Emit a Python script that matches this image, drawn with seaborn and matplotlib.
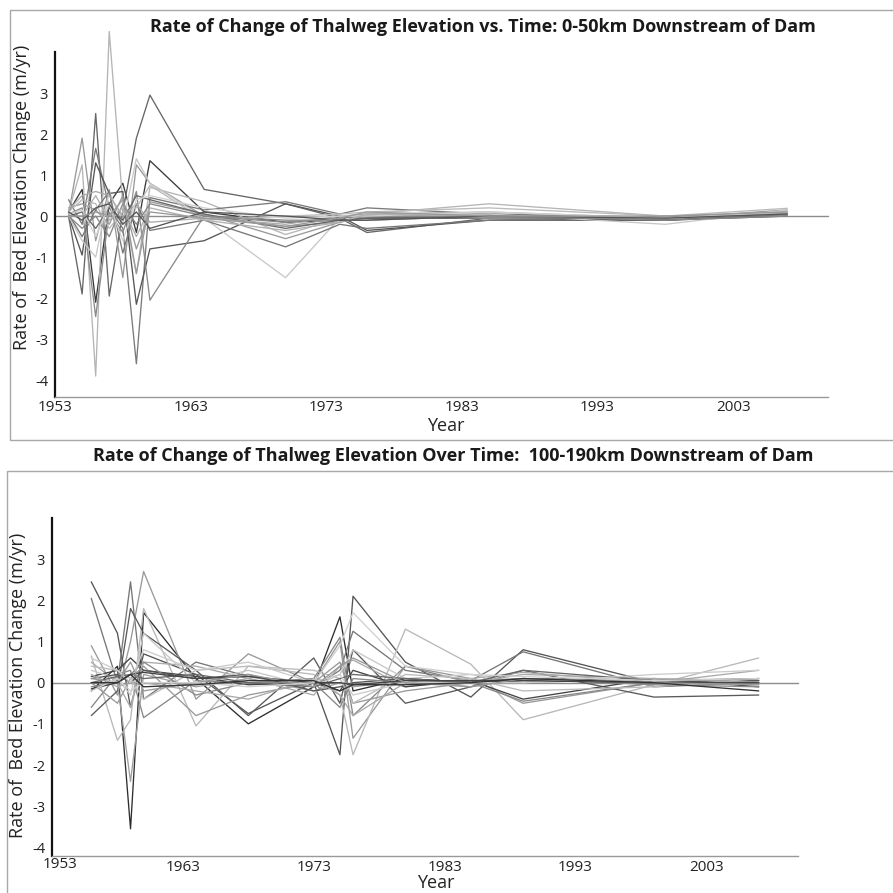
import matplotlib
matplotlib.use("Agg")
import matplotlib.pyplot as plt
from matplotlib.patches import Rectangle
from matplotlib.transforms import ScaledTranslation
import pandas as pd
import seaborn as sns

# Top panel: 0-50 km downstream of dam
TOP_TITLE = "Rate of Change of Thalweg Elevation vs. Time: 0-50km Downstream of Dam"
top_years = [1954, 1955, 1956, 1957, 1958, 1959, 1960, 1964, 1970, 1974, 1976, 1985, 1998, 2007]
top_series = [
    [0.10, 0.65, -2.10, 0.30, 0.80, -0.40, 1.35, 0.10, -0.15, -0.10, -0.05, -0.05, -0.10, 0.05],
    [0.00, -1.90, 2.50, -1.95, 0.10, 1.90, 2.95, 0.65, 0.30, -0.05, -0.40, -0.05, -0.05, 0.10],
    [0.05, 1.90, -0.60, 0.65, -1.50, 1.25, 0.80, 0.00, -0.25, -0.15, 0.00, 0.05, -0.05, 0.15],
    [0.10, 1.25, -3.90, 4.50, 0.30, -1.40, 0.70, 0.35, -0.45, -0.05, 0.05, 0.30, 0.00, 0.10],
    [0.40, -0.20, 1.65, 0.20, -0.30, -3.60, 0.45, 0.15, 0.35, 0.05, 0.20, 0.05, -0.05, 0.10],
    [0.00, -0.95, 1.30, 0.55, 0.60, -2.15, -0.80, -0.60, 0.30, 0.00, -0.35, -0.10, -0.10, 0.00],
    [0.05, 0.20, -2.45, 0.10, -0.40, 0.60, -2.05, 0.00, -0.10, -0.10, -0.10, 0.00, -0.05, 0.05],
    [0.00, -0.60, -1.00, 0.60, -0.20, 1.40, 0.80, -0.05, -1.50, -0.05, 0.05, 0.05, -0.20, 0.15],
    [0.20, 0.30, 0.15, -0.20, 0.50, -1.40, 0.35, 0.05, -0.55, -0.15, 0.00, -0.05, -0.05, 0.05],
    [0.05, -0.50, 0.15, 0.60, -0.90, 0.30, -0.35, -0.10, -0.75, -0.20, -0.30, -0.10, 0.00, 0.00],
    [0.10, 0.40, 0.30, -0.30, 0.10, 0.20, 0.75, -0.10, 0.00, 0.05, 0.10, 0.20, 0.00, 0.19],
    [0.00, 0.10, -0.30, 0.20, -0.10, 0.50, 0.40, 0.05, -0.30, -0.10, -0.05, 0.00, -0.10, 0.05],
    [0.15, 0.50, 0.60, 0.50, 0.00, 0.30, -0.15, -0.05, -0.20, 0.00, 0.05, 0.10, -0.05, 0.10],
    [0.00, -0.30, 0.00, -0.50, 0.30, -0.20, 0.30, 0.00, -0.15, -0.05, 0.00, 0.00, -0.10, 0.00],
    [0.05, 0.15, -0.50, 0.30, -0.60, 0.40, 0.50, 0.20, -0.05, 0.00, 0.00, 0.10, -0.05, 0.10],
    [0.00, 0.00, 0.50, -0.10, 0.20, -0.50, 0.20, -0.10, -0.35, -0.15, 0.05, 0.00, -0.05, 0.05],
    [0.10, -0.10, 0.20, 0.30, -0.20, 0.10, -0.30, 0.10, 0.00, -0.10, -0.10, 0.00, -0.05, 0.05],
    [0.00, 0.00, 0.10, 0.00, 0.40, -0.80, 0.10, -0.05, -0.25, -0.05, 0.10, 0.00, 0.00, 0.10],
]
top_grays = ["#3a3a3a", "#666666", "#999999", "#b5b5b5", "#7a7a7a", "#555555", "#8a8a8a", "#c8c8c8",
             "#9a9a9a", "#777777", "#bbbbbb", "#666666", "#aaaaaa", "#888888", "#d0d0d0", "#b0b0b0",
             "#555555", "#999999"]

# Bottom panel: 100-190 km downstream of dam
BOTTOM_TITLE = "Rate of Change of Thalweg Elevation Over Time:  100-190km Downstream of Dam"
bottom_years = [1956, 1958, 1959, 1960, 1964, 1968, 1973, 1975, 1976, 1980, 1985, 1989, 1999, 2007]
bottom_series = [
    [-0.20, 0.40, -3.55, 1.70, 0.10, -1.00, -0.10, 1.60, -0.20, 0.10, 0.00, 0.10, 0.05, 0.00],
    [2.45, 1.20, -0.60, 0.70, 0.20, -0.75, 0.00, -1.75, 2.10, 0.50, -0.35, 0.80, 0.00, 0.05],
    [2.05, 0.00, 2.45, -0.40, 0.50, 0.15, -0.10, 0.30, 1.25, 0.30, 0.05, 0.75, -0.10, 0.00],
    [0.90, -0.30, 1.00, 2.70, -0.40, 0.70, 0.00, 1.00, -1.35, 0.40, 0.10, -0.50, 0.00, 0.00],
    [0.65, -1.40, -0.90, 1.80, -1.05, 0.40, 0.20, -0.30, -1.75, 1.30, 0.45, -0.90, -0.05, 0.60],
    [-0.80, -0.20, 1.80, 1.20, 0.30, -0.80, 0.60, -0.50, 0.80, -0.50, -0.10, 0.30, -0.35, -0.30],
    [-0.60, 0.20, 0.30, -0.85, 0.05, 0.00, 0.10, 1.10, -0.80, 0.40, 0.00, -0.45, 0.00, 0.10],
    [0.50, 0.00, -0.60, 0.50, 0.40, 0.10, -0.30, 0.40, 0.55, -0.10, 0.10, 0.25, 0.00, 0.30],
    [0.15, 0.30, 0.60, 0.30, 0.15, -0.05, 0.00, -0.20, 0.30, -0.10, 0.05, -0.40, 0.10, -0.10],
    [0.00, -0.50, 0.10, 0.40, -0.80, -0.30, 0.00, 0.50, -0.50, -0.20, 0.00, 0.00, 0.10, 0.05],
    [0.30, 0.10, -0.30, 1.20, 0.00, 0.30, -0.10, 0.20, 0.80, 0.10, 0.20, 0.00, 0.10, 0.00],
    [0.00, 0.00, -2.40, 0.20, -0.10, 0.10, -0.20, 0.00, -0.10, 0.05, -0.10, 0.10, 0.00, -0.05],
    [0.10, 0.20, 0.00, 0.30, 0.10, 0.20, -0.20, -0.10, 0.00, 0.10, 0.00, 0.05, 0.00, 0.05],
    [0.40, 0.30, 0.10, -0.40, 0.30, 0.40, 0.30, 0.10, -0.50, 0.20, 0.10, -0.20, -0.10, 0.10],
    [-0.10, 0.00, 0.20, 0.50, -0.30, 0.00, 0.00, -0.60, 0.10, 0.00, 0.05, 0.10, -0.05, -0.10],
    [0.20, -0.10, 0.00, 0.00, -0.20, -0.40, 0.10, -0.30, -0.80, 0.00, 0.00, 0.20, 0.10, 0.00],
    [0.00, 0.15, 0.20, 0.10, 0.20, 0.00, -0.10, 0.10, 0.20, 0.10, 0.00, 0.30, 0.05, 0.10],
    [0.60, 0.30, 0.00, 0.80, 0.30, 0.50, 0.00, 0.20, -0.30, 0.00, 0.00, 0.00, 0.20, 0.30],
    [-0.15, 0.00, 0.20, 0.25, 0.10, 0.15, 0.00, 0.00, -0.05, 0.05, 0.05, 0.05, 0.00, 0.00],
    [0.10, 0.00, 0.50, -0.20, 0.00, 0.20, -0.10, 0.40, 0.60, 0.00, -0.10, 0.10, 0.00, -0.05],
    [-0.20, 0.10, -0.20, 0.00, 0.00, -0.10, 0.00, 0.90, 1.70, 0.40, 0.20, 0.15, 0.05, 0.10],
    [0.00, 0.00, 0.20, -0.10, -0.05, 0.05, 0.05, -0.20, -0.05, -0.05, 0.00, 0.10, 0.00, -0.20],
]
bottom_grays = ["#2e2e2e", "#555555", "#777777", "#999999", "#b8b8b8", "#5a5a5a", "#888888", "#aaaaaa",
                "#444444", "#999999", "#c8c8c8", "#a0a0a0", "#555555", "#bbbbbb", "#888888", "#aaaaaa",
                "#666666", "#cccccc", "#444444", "#999999", "#d0d0d0", "#333333"]

year_ticks = [1953, 1963, 1973, 1983, 1993, 2003]
y_ticks = [-4, -3, -2, -1, 0, 1, 2, 3, 4]
YLABEL = "Rate of  Bed Elevation Change (m/yr)"

W = H = 893


def to_long(years, series):
    rows = []
    for idx, values in enumerate(series):
        for year, value in zip(years, values):
            rows.append({"series": idx, "year": year, "rate": value})
    return pd.DataFrame(rows)


def draw_panel(ax, years, series, grays, ylim, ylabel_xy, xlabel_xy, xpad):
    df = to_long(years, series)
    palette = {idx: color for idx, color in enumerate(grays)}
    ax.axhline(0, color="#8c8c8c", lw=1.0, zorder=0)
    sns.lineplot(data=df, x="year", y="rate", hue="series", palette=palette,
                 estimator=None, lw=0.95, legend=False, ax=ax, zorder=2)
    for line in ax.get_lines():
        line.set_clip_on(False)
    ax.set_xlim(1953, 2010)
    ax.set_ylim(*ylim)
    ax.set_xticks(year_ticks)
    ax.set_yticks(y_ticks)
    ax.set_yticklabels([str(t) if t < 4 else "" for t in y_ticks])
    ax.tick_params(axis="x", direction="in", length=3, color="#999999",
                   labelsize=11, labelcolor="#222222", pad=xpad)
    ax.tick_params(axis="y", direction="out", length=3, width=1, color="#222222",
                   labelsize=10.5, labelcolor="#222222", pad=2)
    for side in ["top", "right"]:
        ax.spines[side].set_visible(False)
    ax.spines["left"].set_color("#111111")
    ax.spines["left"].set_linewidth(1.6)
    ax.spines["bottom"].set_color("#999999")
    ax.spines["bottom"].set_linewidth(1.0)
    ax.set_xlabel("Year", fontsize=13, color="#222222")
    ax.set_ylabel(YLABEL, fontsize=13, color="#222222")
    ax.xaxis.set_label_coords(*xlabel_xy)
    ax.yaxis.set_label_coords(*ylabel_xy)
    ax.set_facecolor("white")


sns.set_theme(style="white")
plt.rcParams["font.family"] = ["Open Sans", "DejaVu Sans"]

fig = plt.figure(figsize=(W / 100, H / 100), dpi=100)

# panel frames
fig.add_artist(Rectangle((10 / W, 1 - 440 / H), 900 / W, 430 / H, transform=fig.transFigure,
                         fill=False, ec="#a8a8a8", lw=1.0))
fig.add_artist(Rectangle((7 / W, -10 / H), 900 / W, (H - 471 + 10) / H, transform=fig.transFigure,
                         fill=False, ec="#a8a8a8", lw=1.0))

ax_top = fig.add_axes([55 / W, 1 - 397 / H, 773 / W, 345 / H])
draw_panel(ax_top, top_years, top_series, top_grays, (-4.41, 4.0), (-0.031, 0.58), (0.506, -0.058), 2)

ax_bot = fig.add_axes([52 / W, 1 - 856 / H, 746 / W, 338 / H])
draw_panel(ax_bot, bottom_years, bottom_series, bottom_grays, (-4.21, 4.0), (-0.033, 0.506), (0.515, -0.054), 3)

# the 1953 label of the lower panel sits a little right of its tick
first = ax_bot.get_xticklabels()[0]
first.set_transform(first.get_transform() + ScaledTranslation(8 / 100, 3 / 100, fig.dpi_scale_trans))

fig.text(483 / W, 1 - 27 / H, TOP_TITLE, ha="center", va="center", fontsize=13,
         fontweight="bold", color="#1a1a1a")
fig.text(453 / W, 1 - 456 / H, BOTTOM_TITLE, ha="center", va="center", fontsize=13,
         fontweight="bold", color="#1a1a1a")

fig.savefig("out.png", dpi=100, facecolor="white")
plt.close(fig)
